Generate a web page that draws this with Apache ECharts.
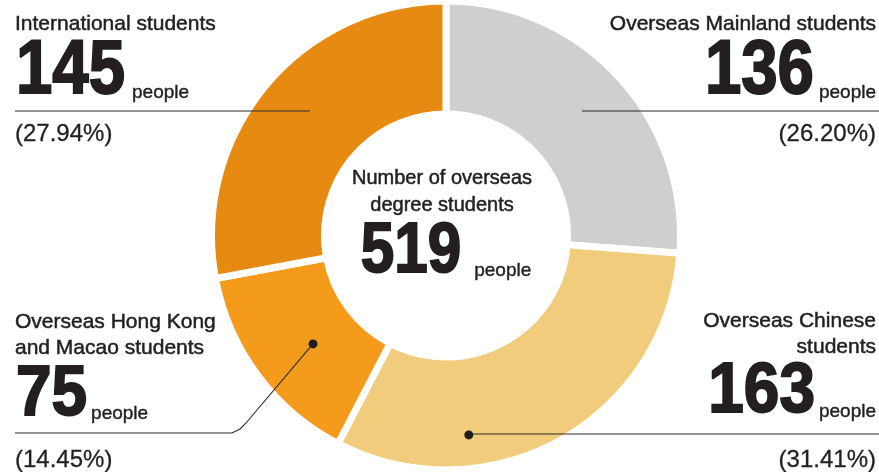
<!DOCTYPE html>
<html>
<head>
<meta charset="utf-8">
<script src="https://cdn.jsdelivr.net/npm/echarts@6/dist/echarts.min.js"></script>
<style>
html,body{margin:0;padding:0;background:#fff;}
#c{width:879px;height:472px;}
</style>
</head>
<body>
<div id="c"></div>
<script>
// ---- data ----
const categories = ['Overseas Mainland students', 'Overseas Chinese students', 'Overseas Hong Kong and Macao students', 'International students'];
const values = [136, 163, 75, 145];
const titleLines = [
  ['Overseas Mainland students'],
  ['Overseas Chinese', 'students'],
  ['Overseas Hong Kong', 'and Macao students'],
  ['International students']
];
const unitLabel = 'people';
const centerTitle = ['Number of overseas', 'degree students'];

// ---- styles / layout ----
const colors = ['#cfcfcf', '#f1cc7c', '#f59b1b', '#e68a12'];
const textColor = '#231f20';
const family = "'Liberation Sans', Arial, Helvetica, sans-serif";
const cx = 446, cy = 235.5, R = 234.5, r = 121.5;
const layout = [
  { align: 'right', x: 876, titleY: [24], numY: 72.5, numSize: 76, scale: 0.86, gap: 5, peopleY: 93, pctY: 134,
    rule: { y: 111, x0: 582, x1: 879 } },
  { align: 'right', x: 876, titleY: [321, 347], numY: 392.5, numSize: 71, scale: 0.9, gap: 4, peopleY: 412, pctY: 460,
    rule: { y: 434, x1: 879 }, dot: { frac: 0.70, rr: 200.7 } },
  { align: 'left', x: 15, titleY: [322, 348], numY: 395.5, numSize: 71, scale: 0.9, gap: 5, peopleY: 414, pctY: 460,
    rule: { y: 433, x0: 15, x1: 232 }, dot: { frac: 0.45, rr: 171.6 } },
  { align: 'left', x: 15, titleY: [24], numY: 72.5, numSize: 76, scale: 0.86, gap: 8, peopleY: 93, pctY: 134,
    rule: { y: 111, x0: 15, x1: 310 } }
];

const total = values.reduce((a, b) => a + b, 0);
const mctx = document.createElement('canvas').getContext('2d');
function measure(text, font) { mctx.font = font; return mctx.measureText(text).width; }
function polar(rr, angDeg) {
  const a = angDeg * Math.PI / 180;
  return [cx + rr * Math.sin(a), cy - rr * Math.cos(a)];
}
function txt(text, x, y, font, align, extra, strokeW) {
  const style = { text: text, font: font, fill: textColor, align: align, textAlign: align, verticalAlign: 'middle', textVerticalAlign: 'middle' };
  if (strokeW) { style.stroke = textColor; style.lineWidth = strokeW; }
  return Object.assign({ type: 'text', x: x, y: y, z: 100, silent: true, style: style }, extra || {});
}

const elements = [];
const titleFont = 'normal 21px ' + family;
const peopleFont = 'normal 19px ' + family;
const pctFont = 'normal 24px ' + family;
const titleStroke = 0.5, numStroke = 2, peopleStroke = 0.4;

let cum = 0;
values.forEach((v, i) => {
  const L = layout[i];
  const startAng = cum / total * 360;
  const sweep = v / total * 360;
  cum += v;
  titleLines[i].forEach((t, k) => elements.push(txt(t, L.x, L.titleY[k], titleFont, L.align, null, titleStroke)));
  const numFont = 'bold ' + L.numSize + 'px ' + family;
  const numW = measure(String(v), numFont) * L.scale;
  const pW = measure(unitLabel, peopleFont);
  if (L.align === 'left') {
    elements.push(txt(String(v), L.x + 1, L.numY, numFont, 'left', { scaleX: L.scale }, numStroke));
    elements.push(txt(unitLabel, L.x + numW + L.gap, L.peopleY, peopleFont, 'left', null, peopleStroke));
  } else {
    elements.push(txt(unitLabel, L.x, L.peopleY, peopleFont, 'right', null, peopleStroke));
    elements.push(txt(String(v), L.x - pW - L.gap, L.numY, numFont, 'right', { scaleX: L.scale }, numStroke));
  }
  const pct = '(' + (v / total * 100).toFixed(2) + '%)';
  elements.push(txt(pct, L.x, L.pctY, pctFont, L.align, null, 0.3));
  const lineStyle = { stroke: '#2a2a2a', lineWidth: 1.1, fill: null };
  if (L.dot) {
    const p = polar(L.dot.rr, startAng + L.dot.frac * sweep);
    elements.push({ type: 'circle', z: 101, silent: true, shape: { cx: p[0], cy: p[1], r: 4.5 }, style: { fill: '#1e1e1e' } });
    if (L.align === 'left') {
      elements.push({ type: 'polyline', z: 100, silent: true,
        shape: { points: [[L.rule.x0, L.rule.y], [L.rule.x1, L.rule.y], [L.rule.x1 + 8, L.rule.y - 4], [L.rule.x1 + 14, L.rule.y - 10], p] },
        style: lineStyle });
    } else {
      elements.push({ type: 'line', z: 100, silent: true, shape: { x1: p[0], y1: L.rule.y, x2: L.rule.x1, y2: L.rule.y }, style: lineStyle });
    }
  } else {
    elements.push({ type: 'line', z: 100, silent: true, shape: { x1: L.rule.x0, y1: L.rule.y, x2: L.rule.x1, y2: L.rule.y }, style: lineStyle });
  }
});

// center label
const cTitleFont = 'normal 20px ' + family;
elements.push(txt(centerTitle[0], 442, 178, cTitleFont, 'center', null, titleStroke));
elements.push(txt(centerTitle[1], 442, 205, cTitleFont, 'center', null, titleStroke));
const cNumFont = 'bold 70px ' + family;
const cScale = 0.86, cGap = 13;
const cNumW = measure(String(total), cNumFont) * cScale;
const cPW = measure(unitLabel, peopleFont);
const cStart = cx - (cNumW + cGap + cPW) / 2;
elements.push(txt(String(total), cStart, 253, cNumFont, 'left', { scaleX: cScale }, numStroke));
elements.push(txt(unitLabel, cStart + cNumW + cGap, 271, peopleFont, 'left', null, peopleStroke));

const chart = echarts.init(document.getElementById('c'), null, { renderer: 'canvas' });
chart.setOption({
  animation: false,
  backgroundColor: '#ffffff',
  series: [{
    type: 'pie',
    center: [cx, cy],
    radius: [r, R],
    startAngle: 90,
    clockwise: true,
    silent: true,
    label: { show: false },
    labelLine: { show: false },
    itemStyle: { borderColor: '#ffffff', borderWidth: 7 },
    data: categories.map((c, i) => ({ name: c, value: values[i], itemStyle: { color: colors[i] } }))
  }],
  graphic: { elements: elements }
});
</script>
</body>
</html>
